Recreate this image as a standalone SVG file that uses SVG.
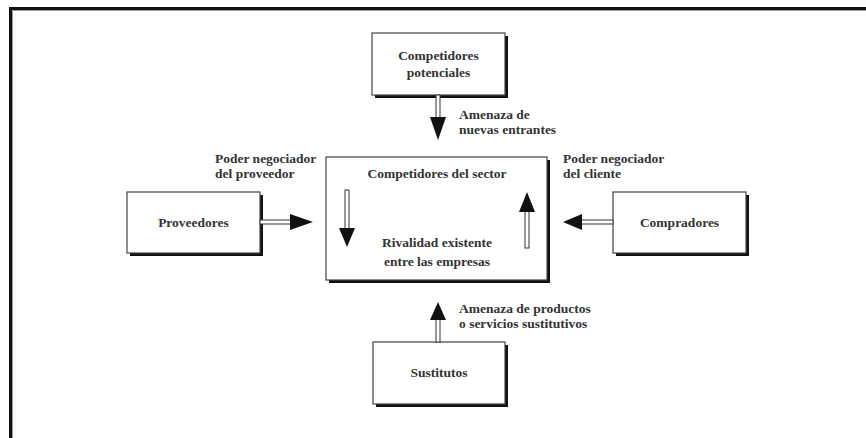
<svg xmlns="http://www.w3.org/2000/svg" width="866" height="438" viewBox="0 0 866 438">
  <style>
    .box { fill: #fff; stroke: #444; stroke-width: 1.2; }
    .shadow { fill: #111; }
    .txt { font-family: "Liberation Serif", "DejaVu Serif", serif; font-weight: bold; font-size: 13.5px; fill: #333; }
    .mid { text-anchor: middle; }
    .shaft { fill: #fff; stroke: #333; stroke-width: 1; }
    .head { fill: #111; }
  </style>
  <rect width="866" height="438" fill="#fff"/>
  <!-- outer frame -->
  <path d="M10.5,440 V8.5 H870" fill="none" stroke="#111" stroke-width="3"/>
  <path d="M12.5,440 V10.5 H870" fill="none" stroke="#999" stroke-width="1"/>

  <g id="competidores-potenciales">
    <rect class="shadow" x="375" y="36" width="133" height="62"/>
    <rect class="box" x="372" y="33" width="133" height="62"/>
    <text class="txt mid" x="438.5" y="60">Competidores</text>
    <text class="txt mid" x="438.5" y="77">potenciales</text>
  </g>

  <g id="proveedores">
    <rect class="shadow" x="130" y="195" width="133" height="61"/>
    <rect class="box" x="127" y="192" width="133" height="61"/>
    <text class="txt mid" x="193.5" y="227">Proveedores</text>
  </g>

  <g id="competidores-sector">
    <rect class="shadow" x="329" y="160" width="221" height="123"/>
    <rect class="box" x="326" y="157" width="221" height="123"/>
    <text class="txt mid" x="437" y="178">Competidores del sector</text>
    <text class="txt mid" x="437" y="247">Rivalidad existente</text>
    <text class="txt mid" x="437" y="266">entre las empresas</text>
  </g>

  <g id="compradores">
    <rect class="shadow" x="616" y="195" width="133" height="61"/>
    <rect class="box" x="613" y="192" width="133" height="61"/>
    <text class="txt mid" x="679.5" y="227">Compradores</text>
  </g>

  <g id="sustitutos">
    <rect class="shadow" x="376" y="345" width="132" height="62"/>
    <rect class="box" x="373" y="342" width="132" height="62"/>
    <text class="txt mid" x="439" y="377">Sustitutos</text>
  </g>

  <g id="connectors">
    <!-- threat of new entrants (down) -->
    <rect class="shaft" x="436" y="95" width="4" height="24"/>
    <polygon class="head" points="430,117 446,117 438,140"/>
    <!-- supplier power (right) -->
    <rect class="shaft" x="260" y="220" width="32" height="4"/>
    <polygon class="head" points="290,214 290,230 313,222"/>
    <!-- buyer power (left) -->
    <rect class="shaft" x="580" y="220" width="33" height="4"/>
    <polygon class="head" points="582,214 582,230 563,222"/>
    <!-- substitutes (up) -->
    <rect class="shaft" x="436" y="318" width="4" height="24"/>
    <polygon class="head" points="430,320 446,320 438,302"/>
    <!-- rivalry loop -->
    <rect class="shaft" x="345" y="190" width="4" height="40"/>
    <polygon class="head" points="339,228 355,228 347,247"/>
    <rect class="shaft" x="525" y="210" width="4" height="38"/>
    <polygon class="head" points="519,212 535,212 527,192"/>
  </g>

  <g id="labels">
    <text class="txt" x="459" y="119">Amenaza de</text>
    <text class="txt" x="459" y="134">nuevas entrantes</text>
    <text class="txt" x="215" y="163">Poder negociador</text>
    <text class="txt" x="215" y="178">del proveedor</text>
    <text class="txt" x="563" y="163">Poder negociador</text>
    <text class="txt" x="563" y="178">del cliente</text>
    <text class="txt" x="459" y="313">Amenaza de productos</text>
    <text class="txt" x="459" y="328">o servicios sustitutivos</text>
  </g>
</svg>
